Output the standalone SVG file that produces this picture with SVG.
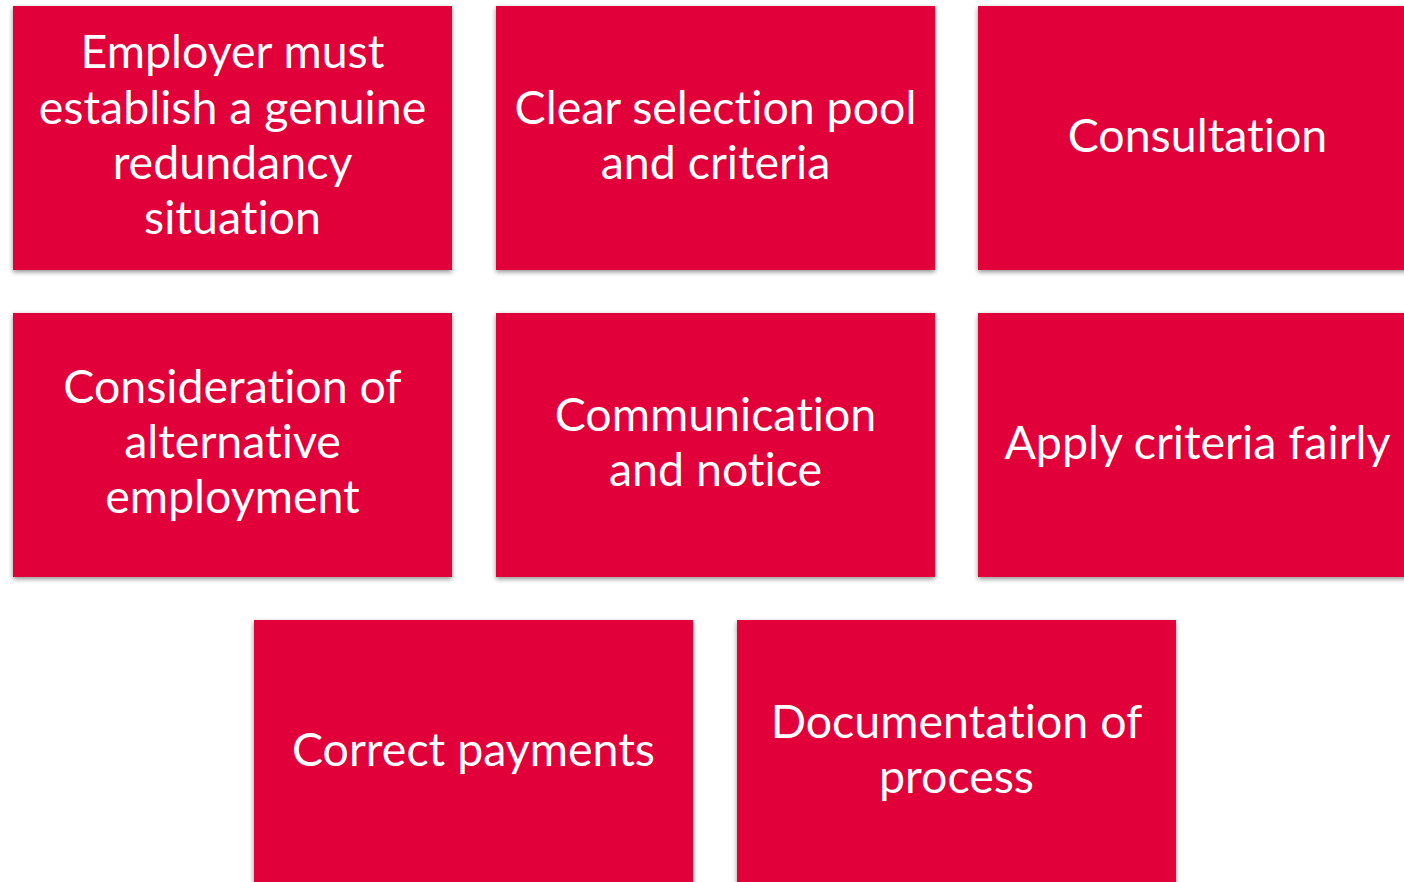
<svg xmlns="http://www.w3.org/2000/svg" width="1404" height="882" viewBox="0 0 1404 882">
  <defs>
    <filter id="shadow" x="-5%" y="-5%" width="110%" height="115%">
      <feGaussianBlur in="SourceAlpha" stdDeviation="2.5"/>
      <feOffset dx="0" dy="2" result="b"/>
      <feComponentTransfer><feFuncA type="linear" slope="0.45"/></feComponentTransfer>
      <feMerge><feMergeNode/><feMergeNode in="SourceGraphic"/></feMerge>
    </filter>
  </defs>
  <style>
    .box { fill: #E2003B; filter: url(#shadow); }
    .lbl { fill: #FFFFFF; font-family: Lato, "Open Sans", "Liberation Sans", sans-serif; font-size: 46.5px; text-anchor: middle; font-variant-ligatures: none; }
  </style>
  <rect width="1404" height="882" fill="#FFFFFF"/>

  <g id="n1">
    <rect class="box" x="13" y="6" width="439" height="264"/>
    <text class="lbl" x="232.5" y="68">Employer must</text>
    <text class="lbl" x="232.5" y="124">establish a genuine</text>
    <text class="lbl" x="232.5" y="179">redundancy</text>
    <text class="lbl" x="232.5" y="234">situation</text>
  </g>
  <g id="n2">
    <rect class="box" x="496" y="6" width="439" height="264"/>
    <text class="lbl" x="715.5" y="124">Clear selection pool</text>
    <text class="lbl" x="715.5" y="179">and criteria</text>
  </g>
  <g id="n3">
    <rect class="box" x="978" y="6" width="439" height="264"/>
    <text class="lbl" x="1197.5" y="152">Consultation</text>
  </g>
  <g id="n4">
    <rect class="box" x="13" y="313" width="439" height="264"/>
    <text class="lbl" x="232.5" y="403">Consideration of</text>
    <text class="lbl" x="232.5" y="458">alternative</text>
    <text class="lbl" x="232.5" y="513">employment</text>
  </g>
  <g id="n5">
    <rect class="box" x="496" y="313" width="439" height="264"/>
    <text class="lbl" x="715.5" y="431">Communication</text>
    <text class="lbl" x="715.5" y="486">and notice</text>
  </g>
  <g id="n6">
    <rect class="box" x="978" y="313" width="439" height="264"/>
    <text class="lbl" x="1197.5" y="459">Apply criteria fairly</text>
  </g>
  <g id="n7">
    <rect class="box" x="254" y="620" width="439" height="264"/>
    <text class="lbl" x="473.5" y="766">Correct payments</text>
  </g>
  <g id="n8">
    <rect class="box" x="737" y="620" width="439" height="264"/>
    <text class="lbl" x="956.5" y="738">Documentation of</text>
    <text class="lbl" x="956.5" y="793">process</text>
  </g>
  <g id="connectors"/>
</svg>
